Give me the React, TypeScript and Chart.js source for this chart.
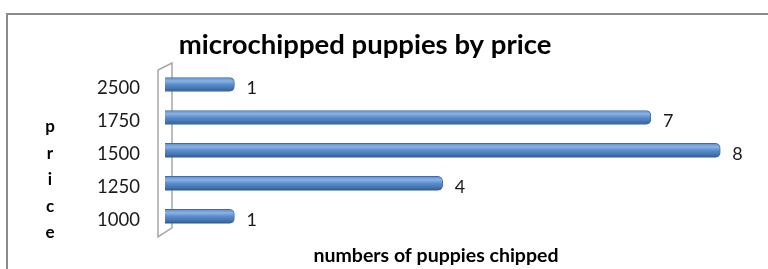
import React, { useEffect, useRef } from 'react';
import { Chart, registerables } from 'chart.js';

Chart.register(...registerables);

const categories = ['1000', '1250', '1500', '1750', '2500'];
const puppiesChipped = [1, 4, 8, 7, 1];
const chartTitle = 'microchipped puppies by price';
const xAxisTitle = 'numbers of puppies chipped';
const yAxisTitle = 'price';

const FONT = 'Lato, "Open Sans", "DejaVu Sans", sans-serif';

export default function App() {
  const ref = useRef<HTMLCanvasElement>(null);

  useEffect(() => {
    const canvas = ref.current;
    if (!canvas) return;

    const decor = {
      id: 'decor',
      beforeDraw(chart: any) {
        const ctx = chart.ctx;
        ctx.save();
        ctx.fillStyle = '#ffffff';
        ctx.fillRect(0, 0, chart.width, chart.height);
        // outer frame (cropped on right and bottom)
        ctx.strokeStyle = '#8C8C8C';
        ctx.lineWidth = 2;
        ctx.beginPath();
        ctx.moveTo(7, chart.height + 2);
        ctx.lineTo(7, 14);
        ctx.lineTo(chart.width + 2, 14);
        ctx.stroke();
        ctx.restore();
      },
      beforeDatasetsDraw(chart: any) {
        const { left, top, bottom } = chart.chartArea;
        const ctx = chart.ctx;
        ctx.save();
        ctx.strokeStyle = '#A6A6A6';
        ctx.lineWidth = 1.5;
        ctx.beginPath();
        ctx.moveTo(left - 7, top + 2);
        ctx.lineTo(left - 7, bottom + 4);
        ctx.lineTo(left + 7, bottom - 5);
        ctx.lineTo(left + 7, top - 5);
        ctx.closePath();
        ctx.stroke();
        ctx.restore();
      },
      afterDatasetsDraw(chart: any) {
        const ctx = chart.ctx;
        const meta = chart.getDatasetMeta(0);
        ctx.save();
        ctx.fillStyle = '#1a1a1a';
        ctx.font = `18px ${FONT}`;
        ctx.textAlign = 'left';
        ctx.textBaseline = 'middle';
        meta.data.forEach((el: any, i: number) => {
          ctx.fillText(String(chart.data.datasets[0].data[i]), el.x + 12, el.y + 4);
        });
        ctx.restore();
      },
      afterDraw(chart: any) {
        const ctx = chart.ctx;
        ctx.save();
        ctx.fillStyle = '#000000';
        ctx.textBaseline = 'alphabetic';
        ctx.textAlign = 'center';
        ctx.font = `bold 27.5px ${FONT}`;
        ctx.fillText(chartTitle, 365, 54);
        ctx.font = `bold 19.5px ${FONT}`;
        ctx.fillText(xAxisTitle, 436, 262);
        ctx.textBaseline = 'middle';
        ctx.font = `bold 17px ${FONT}`;
        yAxisTitle.split('').forEach((ch, i) => {
          ctx.fillText(ch, 50, 127 + i * 26.5);
        });
        ctx.restore();
      },
    };

    const chart = new Chart(canvas, {
      type: 'bar',
      data: {
        labels: categories,
        datasets: [
          {
            data: puppiesChipped,
            barThickness: 14,
            borderWidth: 1,
            borderColor: '#3F6CA6',
            borderRadius: 5,
            borderSkipped: 'start',
            backgroundColor: (c: any) => {
              const ch = c.chart;
              const ys = ch.scales && ch.scales.y;
              if (!ys || c.type !== 'data' || !ch.chartArea) return '#4F81BD';
              const mid = ys.getPixelForValue(c.dataIndex);
              const h = 14;
              const g = ch.ctx.createLinearGradient(0, mid - h / 2, 0, mid + h / 2);
              g.addColorStop(0, '#5E8FCF');
              g.addColorStop(0.25, '#8AB2E5');
              g.addColorStop(0.5, '#5B8CCB');
              g.addColorStop(0.8, '#4473B0');
              g.addColorStop(1, '#2C568A');
              return g;
            },
          },
        ],
      },
      plugins: [decor],
      options: {
        indexAxis: 'y',
        responsive: false,
        animation: false,
        devicePixelRatio: 1,
        layout: { padding: { left: 90, top: 68, right: 13, bottom: 32 } },
        plugins: {
          legend: { display: false },
          title: { display: false },
          tooltip: { enabled: false },
        },
        scales: {
          x: {
            display: false,
            min: 0,
            max: 8.5,
          },
          y: {
            reverse: true,
            grid: { display: false, drawTicks: false },
            border: { display: false },
            ticks: {
              padding: 25,
              labelOffset: 4,
              color: '#1a1a1a',
              font: { family: FONT, size: 18.5 },
            },
            afterFit: (s: any) => {
              s.width = 75;
            },
          },
        },
      },
    } as any);

    return () => chart.destroy();
  }, []);

  return (
    <canvas
      ref={ref}
      width={768}
      height={269}
      style={{ position: 'absolute', left: 0, top: 0, width: 768, height: 269 }}
    />
  );
}
